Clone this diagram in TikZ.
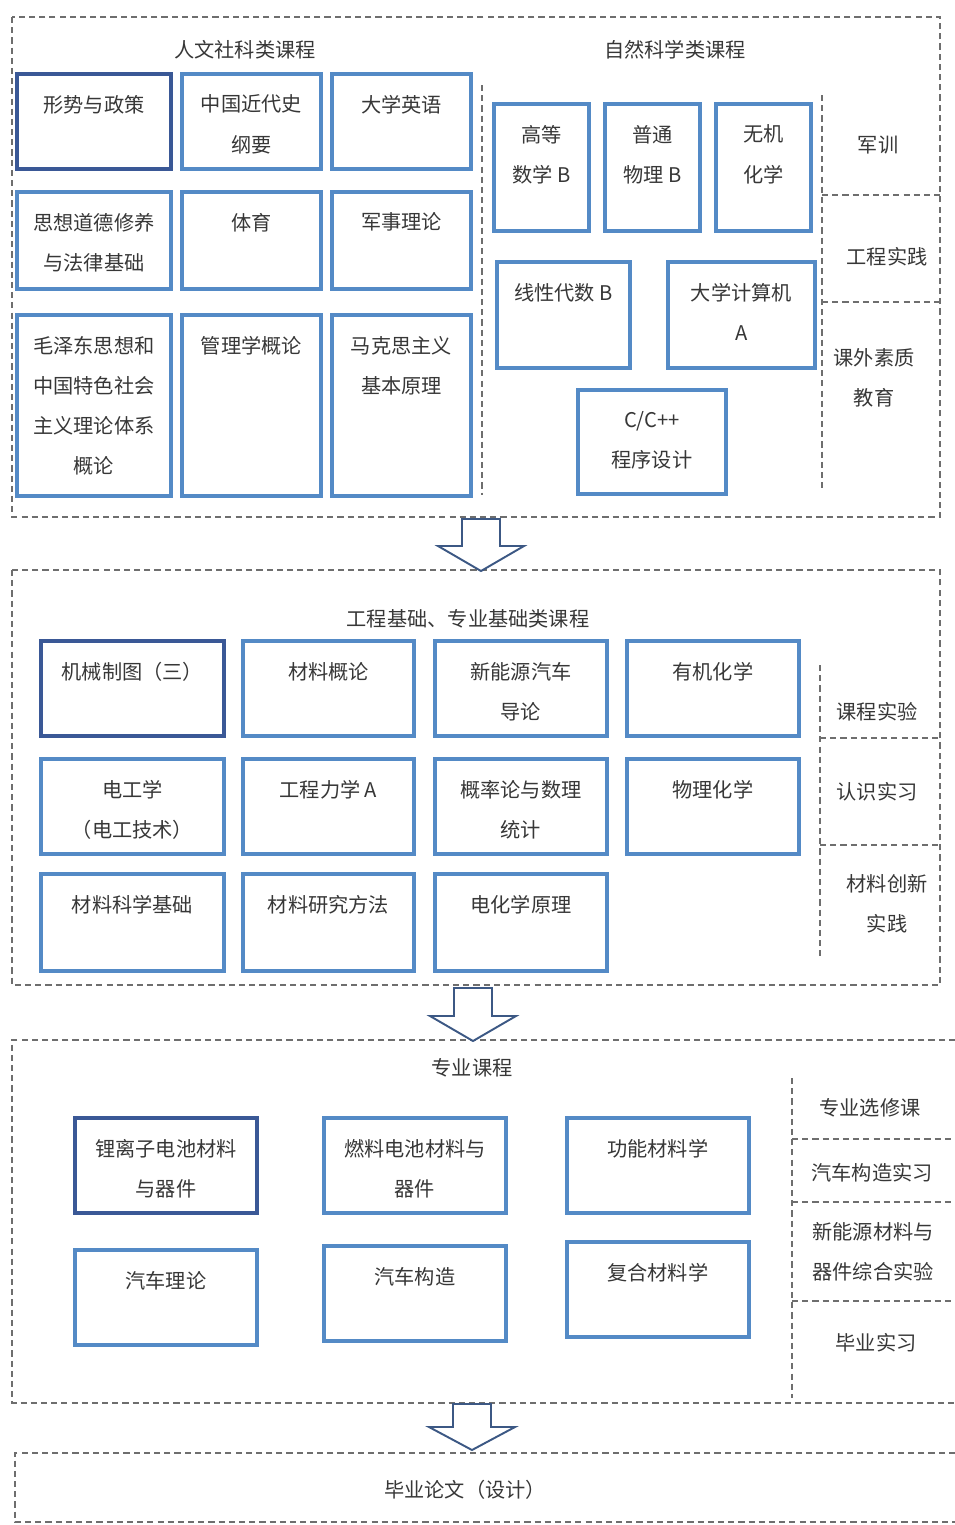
\documentclass[tikz,border=0pt]{standalone}
\usepackage{fontspec}
\setmainfont{Noto Sans CJK SC}
\usepackage{tikz}
\usetikzlibrary{positioning}
\definecolor{boxblue}{RGB}{84,138,198}
\definecolor{boxnavy}{RGB}{58,88,150}
\definecolor{dashgray}{RGB}{110,110,110}
\definecolor{txtgray}{RGB}{55,55,55}
\definecolor{arrowblue}{RGB}{60,88,132}
\tikzset{
	kbox/.style={draw=boxblue, line width=2pt, inner sep=0pt, outer sep=0pt, fill=white},
	dkbox/.style={kbox, draw=boxnavy},
	ktxt/.style={font=\fontsize{11.5}{22.8}\selectfont, text=txtgray, align=center, inner sep=0pt, outer sep=0pt},
	dline/.style={draw=dashgray, line width=0.6pt, dash pattern=on 3.5pt off 2.3pt},
	harrow/.style={draw=arrowblue, line width=1.1pt, fill=white, line join=miter}
}

\begin{document}
\begin{tikzpicture}[x=0.02cm, y=-0.02cm]
	\useasboundingbox (0,0) rectangle (955,1525);
	
	\draw[dline] (12,17) rectangle (940,517);
	\draw[dline] (482,85) -- (482,495);
	\draw[dline] (822,95) -- (822,490);
	\draw[dline] (822,195) -- (940,195);
	\draw[dline] (822,302) -- (940,302);
	\draw[dline] (12,570) rectangle (940,985);
	\draw[dline] (820,665) -- (820,960);
	\draw[dline] (820,738) -- (940,738);
	\draw[dline] (820,845) -- (940,845);
	\draw[dline] (955,1040) -- (12,1040) -- (12,1403) -- (955,1403);
	\draw[dline] (792,1078) -- (792,1398);
	\draw[dline] (792,1139) -- (955,1139);
	\draw[dline] (792,1202) -- (955,1202);
	\draw[dline] (792,1301) -- (955,1301);
	\draw[dline] (955,1453) -- (15,1453) -- (15,1522) -- (955,1522);
	
	\node[ktxt] (rwsk) at (245,50) {人文社科类课程};
	\node[ktxt] (zrkx) at (675,50) {自然科学类课程};
	\node[ktxt] (gcjc) at (468,619) {工程基础、专业基础类课程};
	\node[ktxt] (zykc) at (472,1068) {专业课程};
	\node[ktxt] (bylw) at (465,1490) {毕业论文（设计）};
	
	\node[dkbox, anchor=north west, minimum width=3.08cm, minimum height=1.9cm] (xszc) at (17,74) {};
	\node[kbox, right=0.22cm of xszc, minimum width=2.78cm, minimum height=1.9cm] (zgjds) {};
	\node[kbox, right=0.22cm of zgjds, minimum width=2.78cm, minimum height=1.9cm] (dxyy) {};
	\node[kbox, below=0.46cm of xszc, minimum width=3.08cm, minimum height=1.94cm] (sxdd) {};
	\node[kbox, right=0.22cm of sxdd, minimum width=2.78cm, minimum height=1.94cm] (ty) {};
	\node[kbox, right=0.22cm of ty, minimum width=2.78cm, minimum height=1.94cm] (jsll) {};
	\node[kbox, below=0.52cm of sxdd, minimum width=3.08cm, minimum height=3.62cm] (mzd) {};
	\node[kbox, right=0.22cm of mzd, minimum width=2.78cm, minimum height=3.62cm] (glx) {};
	\node[kbox, right=0.22cm of glx, minimum width=2.78cm, minimum height=3.62cm] (mks) {};
	
	\node[ktxt, below=0.42cm of xszc.north] (xszc-t) {形势与政策};
	\node[ktxt, below=0.42cm of zgjds.north] (zgjds-t) {中国近代史\\纲要};
	\node[ktxt, below=0.42cm of dxyy.north] (dxyy-t) {大学英语};
	\node[ktxt, below=0.42cm of sxdd.north] (sxdd-t) {思想道德修养\\与法律基础};
	\node[ktxt, below=0.42cm of ty.north] (ty-t) {体育};
	\node[ktxt, below=0.42cm of jsll.north] (jsll-t) {军事理论};
	\node[ktxt, below=0.42cm of mzd.north] (mzd-t) {毛泽东思想和\\中国特色社会\\主义理论体系\\概论};
	\node[ktxt, below=0.42cm of glx.north] (glx-t) {管理学概论};
	\node[ktxt, below=0.42cm of mks.north] (mks-t) {马克思主义\\基本原理};
	
	\node[kbox, anchor=north west, minimum width=1.9cm, minimum height=2.54cm] (gdsx) at (494,104) {};
	\node[kbox, right=0.32cm of gdsx, minimum width=1.9cm, minimum height=2.54cm] (ptwl) {};
	\node[kbox, right=0.32cm of ptwl, minimum width=1.9cm, minimum height=2.54cm] (wjhx) {};
	\node[kbox, anchor=north west, minimum width=2.66cm, minimum height=2.12cm] (xxds) at (497,262) {};
	\node[kbox, right=0.76cm of xxds, minimum width=2.94cm, minimum height=2.12cm] (dxjsj) {};
	\node[kbox, anchor=north west, minimum width=2.96cm, minimum height=2.08cm] (cpp) at (578,390) {};
	
	\node[ktxt, below=0.42cm of gdsx.north] (gdsx-t) {高等\\数学 B};
	\node[ktxt, below=0.42cm of ptwl.north] (ptwl-t) {普通\\物理 B};
	\node[ktxt, below=0.42cm of wjhx.north] (wjhx-t) {无机\\化学};
	\node[ktxt, below=0.42cm of xxds.north] (xxds-t) {线性代数 B};
	\node[ktxt, below=0.42cm of dxjsj.north] (dxjsj-t) {大学计算机\\A};
	\node[ktxt, below=0.42cm of cpp.north] (cpp-t) {C/C++\\程序设计};
	
	\node[ktxt] (jx) at (878,145) {军训};
	\node[ktxt] (gcsj) at (887,257) {工程实践};
	\node[ktxt] (kwsz) at (874,378) {课外素质\\教育};
	
	\node[dkbox, anchor=north west, minimum width=3.66cm, minimum height=1.9cm] (jxzt) at (41,641) {};
	\node[kbox, right=0.38cm of jxzt, minimum width=3.42cm, minimum height=1.9cm] (clgl) {};
	\node[kbox, right=0.42cm of clgl, minimum width=3.44cm, minimum height=1.9cm] (xnyqc) {};
	\node[kbox, right=0.4cm of xnyqc, minimum width=3.44cm, minimum height=1.9cm] (yjhx) {};
	\node[kbox, below=0.46cm of jxzt, minimum width=3.66cm, minimum height=1.9cm] (dgx) {};
	\node[kbox, right=0.38cm of dgx, minimum width=3.42cm, minimum height=1.9cm] (gclx) {};
	\node[kbox, right=0.42cm of gclx, minimum width=3.44cm, minimum height=1.9cm] (gll) {};
	\node[kbox, right=0.4cm of gll, minimum width=3.44cm, minimum height=1.9cm] (wlhx) {};
	\node[kbox, below=0.4cm of dgx, minimum width=3.66cm, minimum height=1.94cm] (clkx) {};
	\node[kbox, right=0.38cm of clkx, minimum width=3.42cm, minimum height=1.94cm] (clyj) {};
	\node[kbox, right=0.42cm of clyj, minimum width=3.44cm, minimum height=1.94cm] (dhx) {};
	
	\node[ktxt, below=0.42cm of jxzt.north] (jxzt-t) {机械制图（三）};
	\node[ktxt, below=0.42cm of clgl.north] (clgl-t) {材料概论};
	\node[ktxt, below=0.42cm of xnyqc.north] (xnyqc-t) {新能源汽车\\导论};
	\node[ktxt, below=0.42cm of yjhx.north] (yjhx-t) {有机化学};
	\node[ktxt, below=0.42cm of dgx.north] (dgx-t) {电工学\\（电工技术）};
	\node[ktxt, below=0.42cm of gclx.north] (gclx-t) {工程力学 A};
	\node[ktxt, below=0.42cm of gll.north] (gll-t) {概率论与数理\\统计};
	\node[ktxt, below=0.42cm of wlhx.north] (wlhx-t) {物理化学};
	\node[ktxt, below=0.42cm of clkx.north] (clkx-t) {材料科学基础};
	\node[ktxt, below=0.42cm of clyj.north] (clyj-t) {材料研究方法};
	\node[ktxt, below=0.42cm of dhx.north] (dhx-t) {电化学原理};
	
	\node[ktxt] (kcsy) at (877,712) {课程实验};
	\node[ktxt] (rssx) at (877,792) {认识实习};
	\node[ktxt] (clcx) at (887,904) {材料创新\\实践};
	
	\node[dkbox, anchor=north west, minimum width=3.64cm, minimum height=1.9cm] (llz) at (75,1118) {};
	\node[kbox, right=1.34cm of llz, minimum width=3.64cm, minimum height=1.9cm] (rldc) {};
	\node[kbox, right=1.22cm of rldc, minimum width=3.64cm, minimum height=1.9cm] (gncl) {};
	\node[kbox, below=0.74cm of llz, minimum width=3.64cm, minimum height=1.9cm] (qcll) {};
	\node[kbox, below=0.66cm of rldc, minimum width=3.64cm, minimum height=1.9cm] (qcgz) {};
	\node[kbox, below=0.58cm of gncl, minimum width=3.64cm, minimum height=1.9cm] (fhcl) {};
	
	\node[ktxt, below=0.42cm of llz.north] (llz-t) {锂离子电池材料\\与器件};
	\node[ktxt, below=0.42cm of rldc.north] (rldc-t) {燃料电池材料与\\器件};
	\node[ktxt, below=0.42cm of gncl.north] (gncl-t) {功能材料学};
	\node[ktxt, below=0.42cm of qcll.north] (qcll-t) {汽车理论};
	\node[ktxt, below=0.42cm of qcgz.north] (qcgz-t) {汽车构造};
	\node[ktxt, below=0.42cm of fhcl.north] (fhcl-t) {复合材料学};
	
	\node[ktxt] (zyxx) at (870,1108) {专业选修课};
	\node[ktxt] (qcsx) at (872,1173) {汽车构造实习};
	\node[ktxt] (xnysy) at (873,1252) {新能源材料与\\器件综合实验};
	\node[ktxt] (bysx) at (876,1343) {毕业实习};
	
	\draw[harrow] (462,519) -- (500,519) -- (500,546) -- (524,546) -- (481,571) -- (438,546) -- (462,546) -- cycle;
	\draw[harrow] (454,988) -- (492,988) -- (492,1016) -- (516,1016) -- (473,1041) -- (430,1016) -- (454,1016) -- cycle;
	\draw[harrow] (453,1404) -- (491,1404) -- (491,1427) -- (515,1427) -- (472,1450) -- (429,1427) -- (453,1427) -- cycle;
	
\end{tikzpicture}
\end{document}
